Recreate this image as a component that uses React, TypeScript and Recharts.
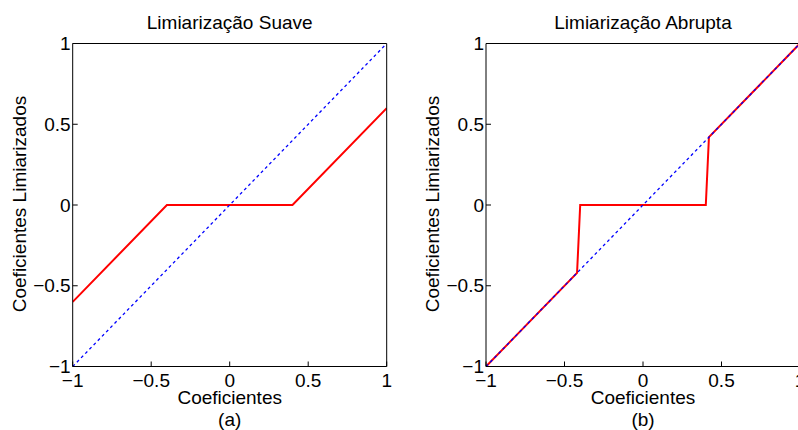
import React from 'react';
import { LineChart, Line, XAxis, YAxis, Label } from 'recharts';

// ticks shared by both panels
const ticks = [-1, -0.5, 0, 0.5, 1];

// soft thresholding (lambda = 0.4)
const softX = [-1, -0.4, 0.4, 1];
const softY = [-0.6, 0, 0, 0.6];

// hard thresholding (lambda = 0.4)
const hardX = [-1, -0.42, -0.4, 0.4, 0.42, 1];
const hardY = [-1, -0.42, 0, 0, 0.42, 1];

// identity reference
const idX = [-1, 1];
const idY = [-1, 1];

const titles = ['Limiarização Suave', 'Limiarização Abrupta'];
const subLabels = ['(a)', '(b)'];
const xTitle = 'Coeficientes';
const yTitle = 'Coeficientes Limiarizados';

const FONT = '"Liberation Sans", Arial, Helvetica, sans-serif';
const FS = 19;

const fmt = (v: number) => String(v).replace('-', '\u2212');
const toPoints = (xs: number[], ys: number[]) => xs.map((x, i) => ({ x, y: ys[i] }));

const txt = { fill: '#000', fontSize: FS, fontFamily: FONT };

interface PanelProps {
  left: number;
  marginLeft: number;
  marginRight: number;
  title: string;
  sub: string;
  data: { x: number; y: number }[];
}

const Panel: React.FC<PanelProps> = ({ left, marginLeft, marginRight, title, sub, data }) => (
  <div style={{ position: 'absolute', left, top: 0 }}>
    <LineChart
      width={400}
      height={430}
      margin={{ top: 42.5, right: marginRight, bottom: 33.5, left: marginLeft }}
    >
      <XAxis
        xAxisId="b"
        type="number"
        dataKey="x"
        domain={[-1, 1]}
        allowDataOverflow
        ticks={ticks}
        interval={0}
        tickFormatter={fmt}
        tickSize={-5}
        tickMargin={12}
        height={30}
        stroke="#000"
        tick={txt}
      >
        <Label
          content={(p: any) => {
            const vb = p.viewBox || {};
            const cx = vb.x + vb.width / 2;
            return (
              <g>
                <text x={cx} y={vb.y + 37.5} textAnchor="middle" {...txt}>{xTitle}</text>
                <text x={cx} y={vb.y + 59.5} textAnchor="middle" {...txt}>{sub}</text>
              </g>
            );
          }}
        />
      </XAxis>
      <XAxis
        xAxisId="t"
        orientation="top"
        type="number"
        dataKey="x"
        domain={[-1, 1]}
        allowDataOverflow
        ticks={ticks}
        interval={0}
        tick={false}
        tickSize={-5}
        height={1}
        stroke="#000"
      >
        <Label
          content={(p: any) => {
            const vb = p.viewBox || {};
            return (
              <text x={vb.x + vb.width / 2} y={vb.y + vb.height - 15} textAnchor="middle" {...txt}>
                {title}
              </text>
            );
          }}
        />
      </XAxis>
      <YAxis
        yAxisId="l"
        type="number"
        domain={[-1, 1]}
        allowDataOverflow
        ticks={ticks}
        interval={0}
        tickFormatter={fmt}
        tickSize={-5}
        tickMargin={7}
        width={40}
        stroke="#000"
        tick={txt}
      >
        <Label
          content={(p: any) => {
            const vb = p.viewBox || {};
            const cx = vb.x + vb.width - 47;
            const cy = vb.y + vb.height / 2 - 1;
            return (
              <text x={cx} y={cy} transform={`rotate(-90 ${cx} ${cy})`} textAnchor="middle" {...txt}>
                {yTitle}
              </text>
            );
          }}
        />
      </YAxis>
      <YAxis
        yAxisId="r"
        orientation="right"
        type="number"
        domain={[-1, 1]}
        allowDataOverflow
        ticks={ticks}
        interval={0}
        tick={false}
        tickSize={-5}
        width={1}
        stroke="#000"
      />
      {/* invisible series so the top and right box axes get drawn */}
      <Line
        xAxisId="t"
        yAxisId="r"
        data={toPoints(idX, idY)}
        dataKey="y"
        stroke="none"
        dot={false}
        activeDot={false}
        legendType="none"
        isAnimationActive={false}
      />
      <Line
        xAxisId="b"
        yAxisId="l"
        data={data}
        dataKey="y"
        type="linear"
        stroke="#ff0000"
        strokeWidth={2}
        dot={false}
        isAnimationActive={false}
      />
      <Line
        xAxisId="b"
        yAxisId="l"
        data={toPoints(idX, idY)}
        dataKey="y"
        type="linear"
        stroke="#0000ff"
        strokeWidth={1.3}
        strokeDasharray="3 3"
        dot={false}
        isAnimationActive={false}
      />
    </LineChart>
  </div>
);

export default function App() {
  return (
    <div
      style={{
        position: 'absolute',
        left: 0,
        top: 0,
        width: 798,
        height: 430,
        overflow: 'hidden',
        background: '#fff',
      }}
    >
      <Panel left={0} marginLeft={32.7} marginRight={12.3} title={titles[0]} sub={subLabels[0]} data={toPoints(softX, softY)} />
      <Panel left={400} marginLeft={46} marginRight={-1} title={titles[1]} sub={subLabels[1]} data={toPoints(hardX, hardY)} />
    </div>
  );
}
